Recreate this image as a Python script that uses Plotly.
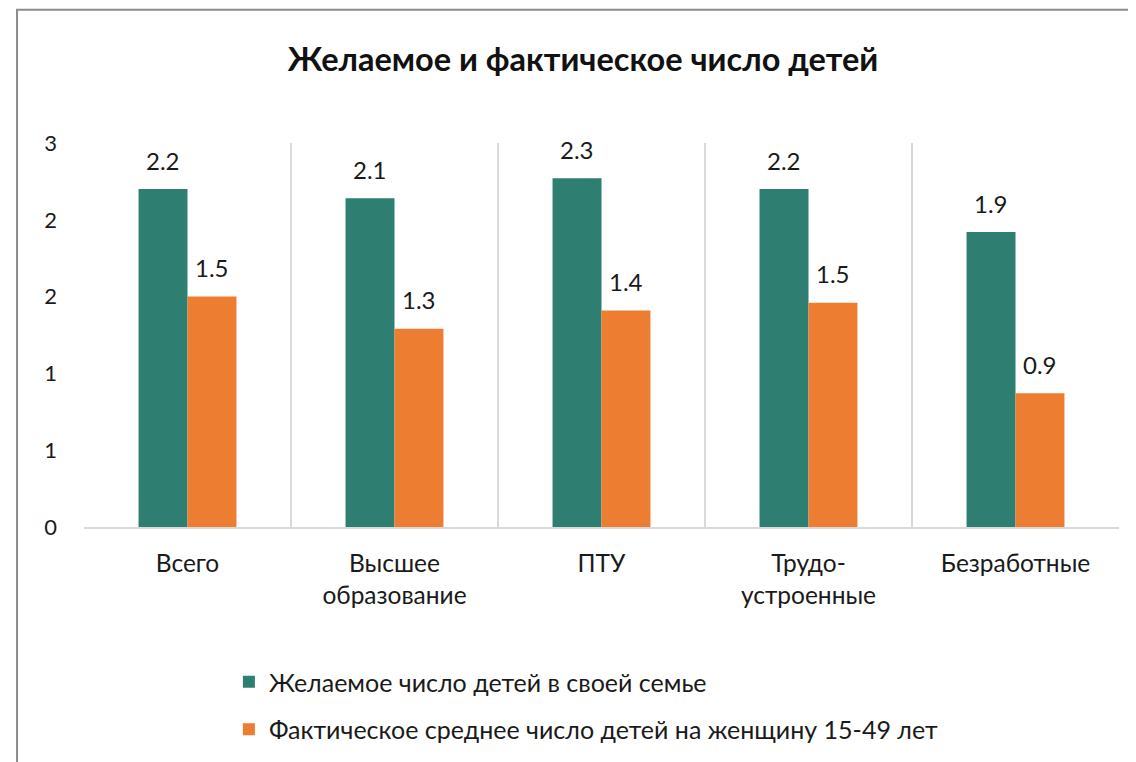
import plotly.graph_objects as go

# --- Data ---
categories = ["Всего", "Высшее<br>образование", "ПТУ", "Трудо-<br>устроенные", "Безработные"]
desired = [2.20, 2.14, 2.27, 2.20, 1.92]
actual = [1.50, 1.29, 1.41, 1.46, 0.87]
series_names = [
    "Желаемое число детей в своей семье",
    "Фактическое среднее число детей на женщину 15-49 лет",
]
y_tick_vals = [0, 0.5, 1, 1.5, 2, 2.5]
y_tick_text = ["0", "1", "1", "2", "2", "3"]

GREEN = "#2F7E72"
ORANGE = "#ED7D31"
FONT = "Lato"
TXT = "#1a1a1a"

# page body has an 8px margin, so the figure is drawn 8px smaller and shifted
W, H = 1128, 754

fig = go.Figure()
for name, vals, color, grp in [(series_names[0], desired, GREEN, "a"),
                               (series_names[1], actual, ORANGE, "b")]:
    fig.add_trace(go.Bar(
        x=categories, y=vals, name=name, legendgroup=grp,
        marker=dict(color=color, line=dict(width=0)),
    ))

# data labels above the bars (Excel puts them a bit higher than plotly's "outside")
for vals, shift in [(desired, -24.5), (actual, 24.5)]:
    for cat, v in zip(categories, vals):
        fig.add_annotation(
            x=cat, y=v, text=f"{v:.1f}", showarrow=False,
            xshift=shift, yshift=29, font=dict(family=FONT, size=24, color=TXT),
        )

# chart frame (Excel chart area border)
fig.add_shape(type="rect", xref="paper", yref="paper",
              x0=-0.0647, x1=1.1, y0=-0.7, y1=1.347,
              line=dict(color="#8c8c8c", width=2), layer="below")

fig.update_layout(
    width=W, height=H,
    margin=dict(l=76, r=17, t=135, b=235),
    paper_bgcolor="white", plot_bgcolor="white",
    barmode="group", bargap=0.527, bargroupgap=0,
    title=dict(text="<b>Желаемое и фактическое число детей</b>",
               x=575 / W, xanchor="center", y=1 - 52 / H, yanchor="middle",
               font=dict(family=FONT, size=32.5, color="#111")),
    font=dict(family=FONT, size=24, color=TXT),
    showlegend=True,
    legend=dict(orientation="v", xref="paper", x=0.140, xanchor="left",
                yref="container", y=1 - 651 / H, yanchor="top",
                traceorder="grouped", tracegroupgap=12,
                font=dict(family=FONT, size=25, color=TXT),
                itemwidth=30),
)
fig.update_xaxes(
    type="category", tickson="boundaries", showgrid=True,
    gridcolor="#d9d9d9", gridwidth=2, ticks="",
    showline=True, linecolor="#d9d9d9", linewidth=2,
    ticklabelstandoff=14, tickfont=dict(family=FONT, size=24.5, color=TXT),
)
fig.update_yaxes(
    range=[0, 2.5], tickvals=y_tick_vals, ticktext=y_tick_text,
    showgrid=False, zeroline=False, showline=False, ticks="",
    ticklabelstandoff=26, tickfont=dict(family=FONT, size=22, color=TXT),
)

fig.write_html("out.html")
